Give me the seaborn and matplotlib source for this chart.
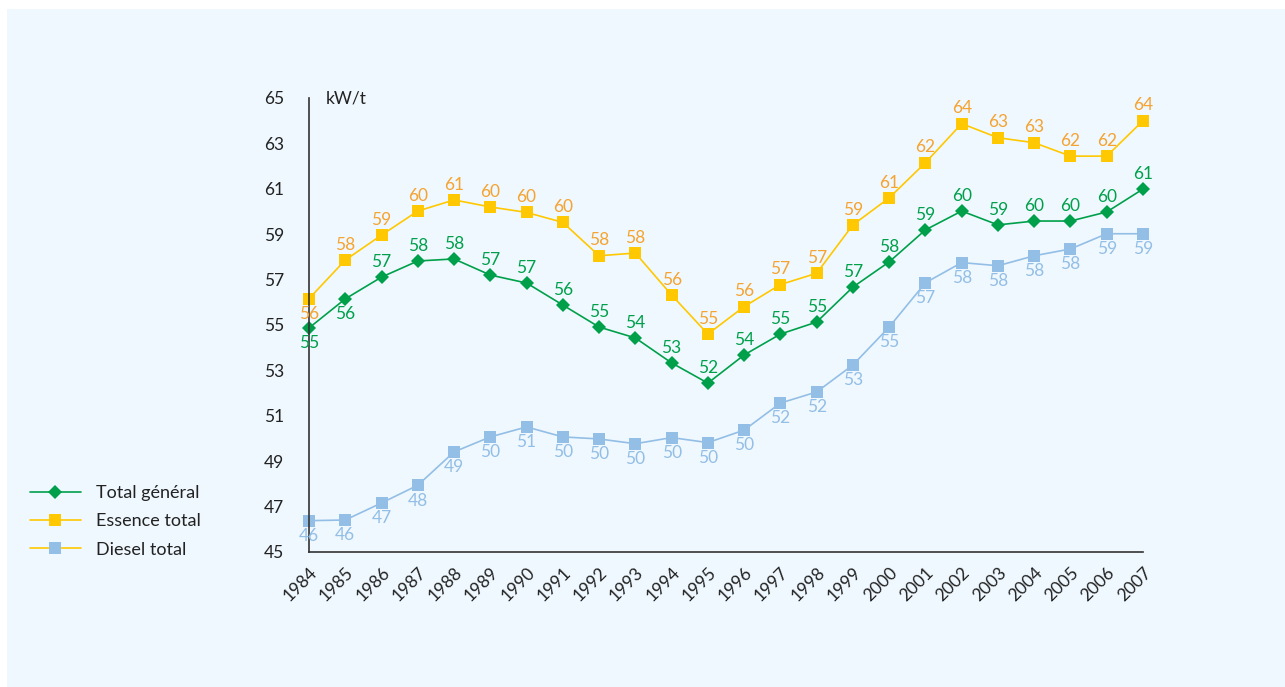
import numpy as np
import seaborn as sns
import matplotlib.pyplot as plt
from matplotlib.lines import Line2D
from matplotlib.patches import Rectangle

years = list(range(1984, 2008))

total_general = [54.87, 56.15, 57.11, 57.82, 57.91, 57.20, 56.85, 55.88, 54.91, 54.43,
                 53.33, 52.44, 53.68, 54.60, 55.13, 56.67, 57.78, 59.19, 60.02, 59.41,
                 59.58, 59.58, 59.98, 60.99]
essence_total = [56.16, 57.86, 58.96, 60.02, 60.51, 60.20, 59.96, 59.52, 58.05, 58.17,
                 56.32, 54.60, 55.81, 56.78, 57.28, 59.41, 60.60, 62.15, 63.87, 63.25,
                 63.03, 62.44, 62.44, 64.00]
diesel_total = [46.38, 46.41, 47.16, 47.94, 49.41, 50.07, 50.51, 50.07, 49.98, 49.77,
                50.04, 49.82, 50.37, 51.56, 52.05, 53.24, 54.91, 56.86, 57.75, 57.61,
                58.05, 58.35, 59.02, 59.02]

series_names = ["Total général", "Essence total", "Diesel total"]
y_ticks = list(range(45, 66, 2))

green = "#00A04B"
yellow = "#FFC800"
orange = "#F5A331"
blue = "#93BEE6"
bg = "#EFF8FE"
fs = 12.5

sns.set_style("white")
plt.rcParams['font.family'] = ['Lato', 'DejaVu Sans']

fig = plt.figure(figsize=(12.85, 6.87), dpi=100)
fig.patch.set_facecolor("white")
fig.patches.append(Rectangle((7 / 1285, 0), 1, 1 - 9 / 687, transform=fig.transFigure,
                             facecolor=bg, edgecolor="none", zorder=-10))

ax = fig.add_axes([309 / 1285, 1 - 552 / 687, (1143 - 309) / 1285, (552 - 98) / 687])
ax.set_facecolor("none")

sns.lineplot(x=years, y=diesel_total, ax=ax, color=blue, lw=1.2, marker="s",
             markersize=8, markeredgewidth=0, clip_on=False)
sns.lineplot(x=years, y=essence_total, ax=ax, color=yellow, lw=1.2, marker="s",
             markersize=8, markeredgewidth=0, clip_on=False)
sns.lineplot(x=years, y=total_general, ax=ax, color=green, lw=1.2, marker="D",
             markersize=7.5, markeredgewidth=0, clip_on=False)

# value labels
def put_labels(vals, color, below_idx=()):
    for i, (x, v) in enumerate(zip(years, vals)):
        dy = -11 if i in below_idx else 11
        ax.annotate(str(int(round(v))), (x, v), xytext=(0, dy), textcoords="offset points",
                    ha="center", va="center", color=color, fontsize=fs)

put_labels(total_general, green, below_idx=(0, 1))
put_labels(essence_total, orange, below_idx=(0,))
put_labels(diesel_total, blue, below_idx=range(len(years)))

ax.set_xlim(1984, 2007)
ax.set_ylim(45, 65)
ax.set_xticks(years)
ax.set_xticklabels([str(y) for y in years], rotation=45, ha="right",
                   rotation_mode="anchor", fontsize=fs, color="#222222")
ax.set_yticks(y_ticks)
ax.set_yticklabels([str(t) for t in y_ticks], fontsize=fs, color="#222222")
ax.tick_params(axis="both", direction="out", length=5, width=1.2, color="#333333")
ax.tick_params(axis="y", pad=13)
ax.tick_params(axis="x", pad=4)
for s in ["top", "right"]:
    ax.spines[s].set_visible(False)
for s in ["left", "bottom"]:
    ax.spines[s].set_color("#333333")
    ax.spines[s].set_linewidth(1.2)

ax.text(0.02, 1.0, "kW/t", transform=ax.transAxes, ha="left", va="center",
        fontsize=fs, color="#222222")

handles = [
    Line2D([], [], color=green, lw=1.2, marker="D", markersize=7.5, markeredgewidth=0),
    Line2D([], [], color=yellow, lw=1.2, marker="s", markersize=8, markeredgewidth=0),
    Line2D([], [], color=yellow, lw=1.2, marker="s", markersize=8, markeredgewidth=0,
           markerfacecolor=blue),
]
fig.legend(handles, series_names, loc="upper left", bbox_to_anchor=(30 / 1285, 1 - 485 / 687),
           frameon=False, fontsize=13, handlelength=2.8, labelspacing=0.68,
           handletextpad=0.85, borderpad=0, borderaxespad=0, labelcolor="#222222")

fig.savefig("out.png", dpi=100)
